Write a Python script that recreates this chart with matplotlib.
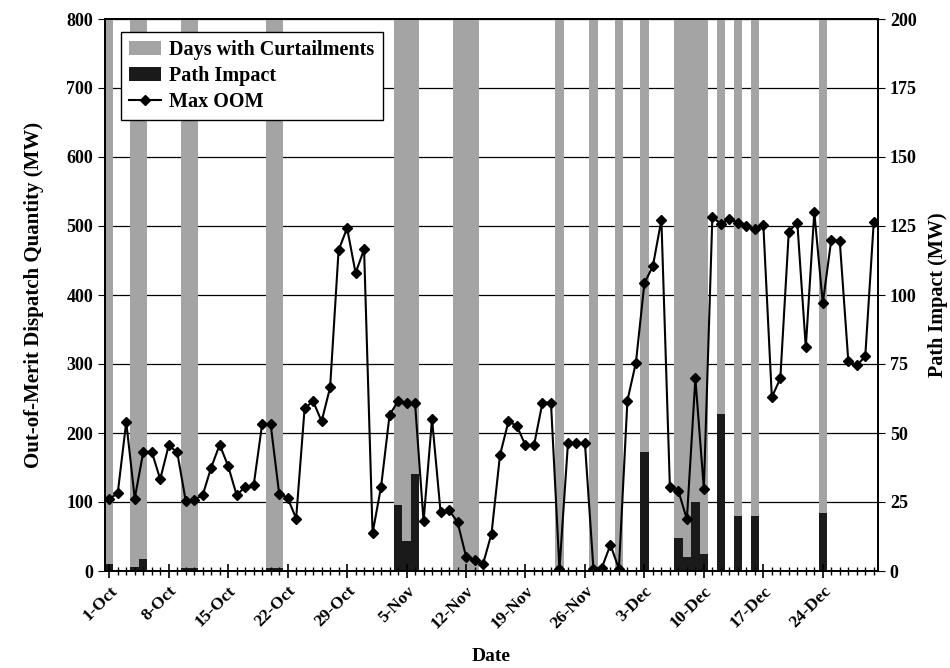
import numpy as np
import matplotlib
matplotlib.use("Agg")
import matplotlib.pyplot as plt
from matplotlib.patches import Patch
from matplotlib.lines import Line2D

plt.rcParams['font.family'] = ['Liberation Serif', 'DejaVu Serif']
plt.rcParams['font.weight'] = 'bold'

# daily Max OOM (MW), 1-Oct .. 30-Dec
oom_oct = [104, 113, 216, 105, 172, 173, 133, 182, 172, 102, 103, 110, 150, 183, 152, 110,
           122, 124, 213, 213, 112, 106, 76, 236, 246, 217, 266, 465, 497, 432, 466]
oom_nov = [55, 122, 226, 246, 244, 243, 72, 220, 86, 88, 71, 21, 16, 10, 54, 168,
           217, 210, 182, 182, 244, 244, 3, 185, 185, 185, 3, 5, 38, 3]
oom_dec = [247, 302, 417, 442, 509, 122, 116, 75, 279, 119, 513, 503, 510, 505, 500,
           495, 502, 252, 279, 492, 505, 324, 520, 388, 480, 478, 305, 298, 311, 506]
max_oom = oom_oct + oom_nov + oom_dec

# day labels for every day on the axis
months = [("Oct", 31), ("Nov", 30), ("Dec", 30)]
day_names = [f"{d}-{m}" for m, n in months for d in range(1, n + 1)]

# days with curtailments and their path impact (MW, right axis)
curtail_days = ["1-Oct", "4-Oct", "5-Oct", "10-Oct", "11-Oct", "20-Oct", "21-Oct",
                "4-Nov", "5-Nov", "6-Nov", "11-Nov", "12-Nov", "13-Nov",
                "23-Nov", "27-Nov", "30-Nov", "3-Dec", "7-Dec", "8-Dec", "9-Dec",
                "10-Dec", "12-Dec", "14-Dec", "16-Dec", "24-Dec"]
path_impact = [2.5, 1.5, 4.5, 1, 1, 1, 1, 24, 11, 35, 0.5, 0.5, 0.5,
               0.3, 0.3, 0.3, 43, 12, 5, 25, 6, 57, 20, 20, 21]

tick_labels = ["1-Oct", "8-Oct", "15-Oct", "22-Oct", "29-Oct", "5-Nov", "12-Nov",
               "19-Nov", "26-Nov", "3-Dec", "10-Dec", "17-Dec", "24-Dec"]

x = np.arange(len(day_names))
cx = [day_names.index(d) for d in curtail_days]
tx = [day_names.index(d) for d in tick_labels]

fig = plt.figure(figsize=(9.5, 6.68), dpi=100)
ax = fig.add_axes([105 / 950, 1 - 571 / 668, 773 / 950, 552 / 668])
ax2 = ax.twinx()
ax.set_zorder(2)
ax2.set_zorder(1)
ax.patch.set_visible(False)

# bars live on the right axis, behind the line
ax2.bar(cx, [200] * len(cx), width=1.0, color='#a4a4a4', linewidth=0)
ax2.bar(cx, path_impact, width=1.0, color='#1a1a1a', linewidth=0)
ax2.set_ylim(0, 200)
ax2.set_yticks(np.arange(0, 201, 25))
ax2.set_axisbelow(True)
ax2.yaxis.grid(True, color='black', linewidth=0.9)
ax2.set_ylabel('Path Impact (MW)', fontsize=14.5, fontweight='bold', labelpad=8)

ax.plot(x, max_oom, color='black', linewidth=1.5, marker='D', markersize=5.5)
ax.set_ylim(0, 800)
ax.set_yticks(np.arange(0, 801, 100))
ax.set_xlim(-0.5, len(x) - 0.5)
ax.set_xticks(tx)
ax.set_xticklabels(tick_labels, rotation=45, ha='right', rotation_mode='anchor')
ax.set_xticks(x, minor=True)
ax.tick_params(axis='x', which='major', direction='inout', length=10, width=1.2)
ax.tick_params(axis='x', which='minor', direction='inout', length=6, width=1)
ax.tick_params(axis='x', labelsize=12.5)
ax.tick_params(axis='y', labelsize=13, direction='out', length=5)
ax2.tick_params(axis='y', labelsize=13, direction='out', length=5)
ax.set_ylabel('Out-of-Merit Dispatch Quantity (MW)', fontsize=15, fontweight='bold', labelpad=16)
ax.set_xlabel('Date', fontsize=14, fontweight='bold', labelpad=12)

for a in (ax, ax2):
    for s in a.spines.values():
        s.set_linewidth(1.3)

handles = [Patch(facecolor='#a4a4a4', label='Days with Curtailments'),
           Patch(facecolor='#1a1a1a', label='Path Impact'),
           Line2D([], [], color='black', marker='D', markersize=5.5, linewidth=1.5, label='Max OOM')]
leg = ax.legend(handles=handles, loc='upper left', bbox_to_anchor=(0.0207, 0.976),
                borderaxespad=0, fontsize=14.5, frameon=True, fancybox=False,
                edgecolor='black', framealpha=1, handlelength=1.6, handletextpad=0.4,
                borderpad=0.4, labelspacing=0.3)
leg.get_frame().set_linewidth(1.0)

fig.savefig('out.png', dpi=100)
